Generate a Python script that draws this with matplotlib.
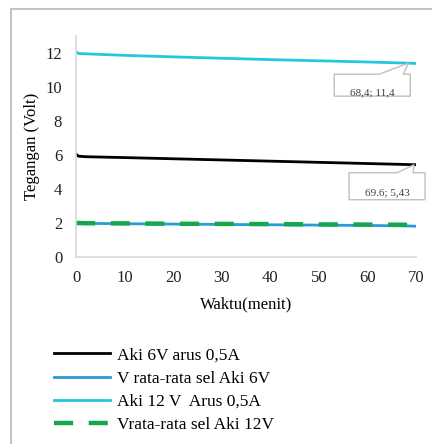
import matplotlib
matplotlib.use("Agg")
import matplotlib.pyplot as plt
import matplotlib.transforms as mtransforms
from matplotlib.patches import Polygon
from matplotlib.lines import Line2D

plt.rcParams['font.family'] = ['Liberation Serif', 'DejaVu Serif']

# waktu (menit)
t = [0, 0.5, 2, 10, 20, 30, 40, 50, 60, 68.4, 69.6, 70]
aki6 = [6.05, 5.93, 5.90, 5.85, 5.78, 5.71, 5.64, 5.57, 5.50, 5.44, 5.43, 5.43]
sel6 = [2.02, 1.99, 1.98, 1.96, 1.94, 1.92, 1.90, 1.88, 1.86, 1.83, 1.82, 1.81]
aki12 = [12.06, 11.97, 11.95, 11.86, 11.77, 11.69, 11.61, 11.54, 11.47, 11.40, 11.39, 11.38]
sel12 = [2.01, 2.00, 1.99, 1.98, 1.96, 1.95, 1.94, 1.92, 1.91, 1.90, 1.90, 1.90]

labels = ['Aki 6V arus 0,5A', 'V rata-rata sel Aki 6V',
          'Aki 12 V  Arus 0,5A', 'Vrata-rata sel Aki 12V']
callouts = [(68.4, 11.4, '68,4; 11,4'), (69.6, 5.43, '69.6; 5,43')]

fig = plt.figure(figsize=(4.32, 4.44), dpi=100)
ax = fig.add_axes([0.176, 0.421, 0.787, 0.498])

ax.plot(t, aki6, color='black', lw=2, label=labels[0])
ax.plot(t, sel6, color='#2a9ad8', lw=2, label=labels[1])
ax.plot(t, aki12, color='#22c8dc', lw=2, label=labels[2])
ax.plot(t, sel12, color='#13a94b', lw=3.2, linestyle=(0, (4.3, 3.5)), label=labels[3])

ax.set_xlim(0, 70)
ax.set_ylim(0, 13)
ax.set_xticks(range(0, 71, 10))
ax.set_yticks(range(0, 13, 2))
ax.tick_params(length=0, labelsize=12, colors='#222222')
ax.tick_params(axis='y', pad=10)
ax.tick_params(axis='x', pad=9)
for s in ['top', 'right']:
    ax.spines[s].set_visible(False)
for s in ['left', 'bottom']:
    ax.spines[s].set_color('#d9d9d9')
    ax.spines[s].set_linewidth(1.2)
ax.set_xlabel('Waktu(menit)', fontsize=12, labelpad=8)
ax.set_ylabel('Tegangan (Volt)', fontsize=12, labelpad=4)

# callout boxes (offsets in pixels from the data point)
shapes = [
    [(-74, -11), (-29, -11), (0, 0), (-5, -11), (2, -11), (2, -33), (-74, -33)],
    [(-65, -8), (-17, -8), (0, 0), (-1, -8), (11, -8), (11, -35), (-65, -35)],
]
text_dy = [-0.30, -0.28]
for (x, y, txt), shp, dy in zip(callouts, shapes, text_dy):
    tr = fig.dpi_scale_trans + mtransforms.ScaledTranslation(x, y, ax.transData)
    pts = [(px / 100, py / 100) for px, py in shp]
    ax.add_patch(Polygon(pts, closed=True, transform=tr, facecolor='white',
                         edgecolor='#bfbfbf', lw=1, clip_on=False, zorder=5))
    xs = [p[0] for p in shp]
    ax.text((min(xs) + max(xs)) / 200, dy, txt, transform=tr, fontsize=8,
            ha='center', va='center', color='#404040', zorder=6)

fig.legend(loc='upper left', bbox_to_anchor=(0.105, 0.238), frameon=False,
           fontsize=12.5, handlelength=3.2, handletextpad=0.45,
           labelspacing=0.42, borderpad=0)

# outer frame (left and top edges)
fx, fy = 11 / 432, 1 - 9 / 444
fig.add_artist(Line2D([fx, fx], [0, fy], transform=fig.transFigure,
                      color='#c4c4c4', lw=1.5))
fig.add_artist(Line2D([fx, 1], [fy, fy], transform=fig.transFigure,
                      color='#c4c4c4', lw=1.5))

fig.savefig('out.png', dpi=100)
